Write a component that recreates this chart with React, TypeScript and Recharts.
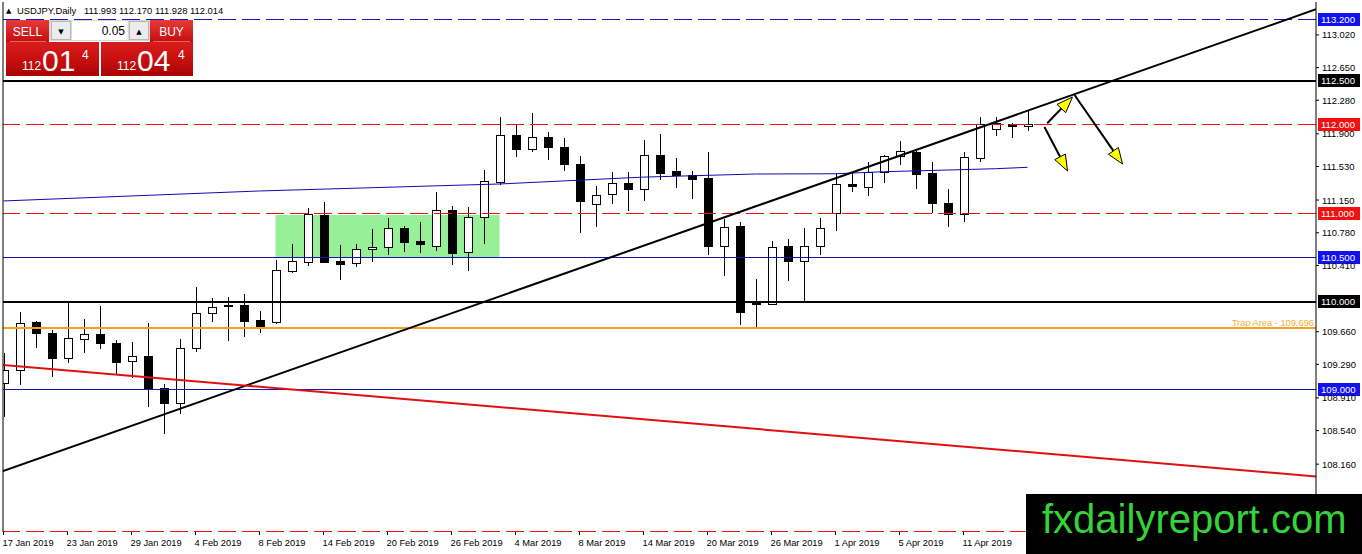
import React from 'react';
import { ComposedChart, Bar, Line, XAxis, YAxis, ReferenceLine, ReferenceArea } from 'recharts';

const dates = [
  '17 Jan 2019', '18 Jan 2019', '21 Jan 2019', '22 Jan 2019', '23 Jan 2019', '24 Jan 2019', '25 Jan 2019', '28 Jan 2019',
  '29 Jan 2019', '30 Jan 2019', '31 Jan 2019', '1 Feb 2019', '4 Feb 2019', '5 Feb 2019', '6 Feb 2019', '7 Feb 2019',
  '8 Feb 2019', '11 Feb 2019', '12 Feb 2019', '13 Feb 2019', '14 Feb 2019', '15 Feb 2019', '18 Feb 2019', '19 Feb 2019',
  '20 Feb 2019', '21 Feb 2019', '22 Feb 2019', '25 Feb 2019', '26 Feb 2019', '27 Feb 2019', '28 Feb 2019', '1 Mar 2019',
  '4 Mar 2019', '5 Mar 2019', '6 Mar 2019', '7 Mar 2019', '8 Mar 2019', '11 Mar 2019', '12 Mar 2019', '13 Mar 2019',
  '14 Mar 2019', '15 Mar 2019', '18 Mar 2019', '19 Mar 2019', '20 Mar 2019', '21 Mar 2019', '22 Mar 2019', '25 Mar 2019',
  '26 Mar 2019', '27 Mar 2019', '28 Mar 2019', '29 Mar 2019', '1 Apr 2019', '2 Apr 2019', '3 Apr 2019', '4 Apr 2019',
  '5 Apr 2019', '8 Apr 2019', '9 Apr 2019', '10 Apr 2019', '11 Apr 2019', '12 Apr 2019', '15 Apr 2019', '16 Apr 2019',
  '17 Apr 2019',
];

const opens = [
  109.079, 109.226, 109.770, 109.645, 109.362, 109.577, 109.634, 109.532, 109.328, 109.385,
  109.023, 108.853, 109.475, 109.872, 109.962, 109.962, 109.792, 109.770, 110.351, 110.452,
  110.981, 110.460, 110.434, 110.593, 110.615, 110.831, 110.687, 110.634, 111.038, 110.559,
  110.962, 111.358, 111.887, 111.725, 111.861, 111.748, 111.558, 111.102, 111.215, 111.340,
  111.272, 111.660, 111.479, 111.437, 111.397, 110.634, 110.857, 109.993, 109.970, 110.630,
  110.460, 110.634, 111.000, 111.332, 111.301, 111.471, 111.649, 111.698, 111.460, 111.114,
  110.992, 111.630, 111.951, 112.008, 111.993,
];
const highs = [
  109.419, 109.883, 109.780, 109.679, 109.996, 109.804, 109.951, 109.566, 109.543, 109.758,
  109.068, 109.577, 110.166, 110.041, 110.053, 110.087, 109.894, 110.472, 110.653, 111.060,
  111.125, 110.641, 110.649, 110.823, 110.951, 110.857, 110.905, 111.245, 111.083, 111.075,
  111.491, 112.087, 112.011, 112.132, 111.917, 111.849, 111.649, 111.309, 111.471, 111.471,
  111.830, 111.898, 111.623, 111.479, 111.698, 110.932, 110.898, 110.253, 110.687, 110.709,
  110.831, 110.951, 111.453, 111.457, 111.585, 111.660, 111.819, 111.700, 111.585, 111.275,
  111.691, 112.094, 112.087, 112.026, 112.170,
];
const lows = [
  108.694, 109.057, 109.475, 109.147, 109.306, 109.419, 109.464, 109.170, 109.136, 108.807,
  108.502, 108.728, 109.430, 109.770, 109.555, 109.600, 109.645, 109.747, 110.324, 110.407,
  110.434, 110.245, 110.396, 110.452, 110.528, 110.566, 110.554, 110.577, 110.415, 110.351,
  110.653, 111.321, 111.641, 111.698, 111.604, 111.483, 110.781, 110.849, 111.106, 111.030,
  111.143, 111.377, 111.290, 111.159, 110.528, 110.291, 109.736, 109.705, 109.962, 110.237,
  110.000, 110.528, 110.803, 111.245, 111.196, 111.340, 111.547, 111.275, 111.000, 110.842,
  110.905, 111.585, 111.875, 111.849, 111.928,
];
const closes = [
  109.226, 109.758, 109.645, 109.362, 109.589, 109.634, 109.532, 109.317, 109.385, 109.023,
  108.853, 109.475, 109.872, 109.940, 109.951, 109.781, 109.713, 110.358, 110.464, 110.989,
  110.452, 110.430, 110.593, 110.619, 110.831, 110.679, 110.656, 111.038, 110.554, 110.962,
  111.366, 111.887, 111.725, 111.861, 111.748, 111.555, 111.143, 111.211, 111.340, 111.279,
  111.660, 111.460, 111.434, 111.392, 110.634, 110.849, 109.886, 109.970, 110.622, 110.460,
  110.634, 110.834, 111.332, 111.309, 111.465, 111.649, 111.706, 111.445, 111.114, 110.992,
  111.634, 112.008, 112.019, 111.989, 112.014,
];

// moving average read at a few bars
const maIdx = [0, 16, 31, 40, 47, 52, 55, 59, 62, 64];
const maVals = [111.14, 111.253, 111.332, 111.41, 111.445, 111.448, 111.471, 111.49, 111.505, 111.521];

const dateTickIdx = [0, 4, 8, 12, 16, 20, 24, 28, 32, 36, 40, 44, 48, 52, 56, 60];
const priceTicks = [113.02, 112.65, 112.28, 111.9, 111.53, 111.15, 110.78, 110.41, 109.66, 109.29, 108.91, 108.54, 108.16, 107.79];

const levelPrices = [113.2, 112.5, 112.0, 111.0, 110.5, 110.0, 109.0, 107.4];
const levelLabelShown = [true, true, true, true, true, true, true, false];
const trapPrice = 109.696;
const trapText = 'Trap Area - 109.696';
const zoneX = [17, 31];
const zoneY = [110.506, 110.981];
const supportLine = [[-0.03, 108.083], [82.03, 113.31]];
const resistLine = [[-0.03, 109.283], [82.03, 108.021]];
const arrowSegs = [
  [[65.23, 112.019], [66.81, 112.317]],
  [[65.06, 111.977], [66.5, 111.479]],
  [[66.94, 112.34], [69.94, 111.558]],
];

const symbolTitle = 'USDJPY,Daily';
const quoteText = '111.993 112.170 111.928 112.014';
const lotSize = '0.05';
const sellParts = ['112', '01', '4'];
const buyParts = ['112', '04', '4'];
const watermark = 'fxdailyreport.com';

const X_DOMAIN = [-0.03, 82.03];
const Y_DOMAIN = [107.392, 113.3925];

const FONT = '"Liberation Sans", Arial, sans-serif';

const rows = dates.map((d, i) => {
  const k = maIdx.indexOf(i);
  return { i, date: d, o: opens[i], h: highs[i], l: lows[i], c: closes[i], ma: k >= 0 ? maVals[k] : null };
});

const levelStyle = [
  { stroke: '#1414c8', dash: '18 6', w: 1, bg: '#1212f0' },
  { stroke: '#000000', dash: undefined, w: 2, bg: '#000000' },
  { stroke: '#ee1010', dash: '18 6', w: 1, bg: '#f21010' },
  { stroke: '#ee1010', dash: '18 6', w: 1, bg: '#f21010' },
  { stroke: '#1414b4', dash: undefined, w: 1, bg: '#1212f0' },
  { stroke: '#000000', dash: undefined, w: 2, bg: '#000000' },
  { stroke: '#1414b4', dash: undefined, w: 1, bg: '#1212f0' },
  { stroke: '#ee1010', dash: '18 6', w: 1, bg: '#f21010' },
];

const Candle = (props: any) => {
  const { x, y, width, height, payload } = props;
  if (!payload || x == null) return null;
  const { o, h, l, c } = payload;
  const top = Math.min(y, y + height);
  const hh = Math.abs(height);
  const range = h - l;
  const k = range > 0 ? hh / range : 0;
  const py = (v: number) => top + (h - v) * k;
  const cx = Math.round(x + width / 2) + 0.5;
  const bull = c >= o;
  const yo = py(o);
  const yc = py(c);
  const bTop = Math.round(Math.min(yo, yc)) + 0.5;
  let bBot = Math.round(Math.max(yo, yc)) + 0.5;
  if (bBot - bTop < 1) bBot = bTop + 1;
  return (
    <g shapeRendering="crispEdges">
      <line x1={cx} x2={cx} y1={Math.round(top)} y2={Math.round(top + hh)} stroke="#000" strokeWidth={1} />
      <rect x={cx - 4} y={bTop} width={8} height={bBot - bTop} fill={bull ? '#ffffff' : '#000000'} stroke="#000" strokeWidth={1} />
    </g>
  );
};

const arrowShape = (props: any) => {
  const { x1, y1, x2, y2 } = props;
  const dx = x2 - x1;
  const dy = y2 - y1;
  const len = Math.hypot(dx, dy) || 1;
  const ux = dx / len;
  const uy = dy / len;
  const hl = 16;
  const hw = 6;
  const bx = x2 - ux * hl;
  const by = y2 - uy * hl;
  const px = -uy;
  const pyy = ux;
  return (
    <g>
      <line x1={x1} y1={y1} x2={bx} y2={by} stroke="#000" strokeWidth={2} />
      <polygon
        points={`${x2},${y2} ${bx + px * hw},${by + pyy * hw} ${bx - px * hw},${by - pyy * hw}`}
        fill="#ffff00"
        stroke="#000"
        strokeWidth={1}
      />
    </g>
  );
};

const boxLabel = (text: string, bg: string) => (props: any) => {
  const vb = props.viewBox || {};
  const x = (vb.x || 0) + (vb.width || 0);
  const y = vb.y || 0;
  return (
    <g>
      <rect x={x + 2} y={y - 6.5} width={42} height={13} fill={bg} shapeRendering="crispEdges" />
      <text x={x + 5} y={y + 3.5} fill="#ffffff" fontSize={9.6} fontFamily={FONT}>
        {text}
      </text>
    </g>
  );
};

const trapLabel = (props: any) => {
  const vb = props.viewBox || {};
  const x = (vb.x || 0) + (vb.width || 0);
  const y = vb.y || 0;
  return (
    <text x={x - 2} y={y - 2.5} fill="#f2b13a" fontSize={9.3} fontFamily={FONT} textAnchor="end">
      {trapText}
    </text>
  );
};

const PriceTick = (props: any) => {
  const { x, y, payload } = props;
  return (
    <text x={x} y={y + 3.5} fill="#000" fontSize={9.4} fontFamily={FONT} textAnchor="start">
      {Number(payload.value).toFixed(3)}
    </text>
  );
};

const DateTick = (props: any) => {
  const { x, y, payload } = props;
  return (
    <text x={x - 1} y={y + 11} fill="#000" fontSize={9.3} fontFamily={FONT} textAnchor="start">
      {dates[payload.value]}
    </text>
  );
};

const Overlay = () => (
  <svg width={1362} height={554} style={{ position: 'absolute', left: 0, top: 0, pointerEvents: 'none' }}>
    <defs>
      <linearGradient id="hdrRed" x1="0" y1="0" x2="0" y2="1">
        <stop offset="0" stopColor="#e83a3a" />
        <stop offset="1" stopColor="#c20e0e" />
      </linearGradient>
      <linearGradient id="boxRed" x1="0" y1="0" x2="0" y2="1">
        <stop offset="0" stopColor="#d81c1c" />
        <stop offset="0.5" stopColor="#c81010" />
        <stop offset="1" stopColor="#a80404" />
      </linearGradient>
    </defs>
    <text x={6} y={13} fontSize={7} fontFamily='"DejaVu Sans", sans-serif' fill="#000">▲</text>
    <text x={17} y={14} fontSize={9.4} fontFamily={FONT} fill="#000">{symbolTitle}</text>
    <text x={84} y={14} fontSize={9.4} fontFamily={FONT} fill="#000">{quoteText}</text>

    <rect x={6} y={20} width={43} height={22} fill="url(#hdrRed)" />
    <text x={27.5} y={36} fontSize={12} fontFamily={FONT} fill="#fff" textAnchor="middle">SELL</text>
    <line x1={10} x2={46} y1={41.5} y2={41.5} stroke="#ff9a9a" strokeOpacity={0.6} />
    <rect x={49} y={20} width={101} height={21} fill="#d8d8d8" />
    <rect x={51.5} y={21.5} width={19} height={18} fill="#ececec" stroke="#b8b8b8" />
    <text x={61} y={34} fontSize={7} fontFamily='"DejaVu Sans", sans-serif' fill="#000" textAnchor="middle">▼</text>
    <rect x={72} y={21} width={56} height={19} fill="#ffffff" />
    <text x={125} y={35} fontSize={12} fontFamily={FONT} fill="#000" textAnchor="end">{lotSize}</text>
    <rect x={129.5} y={21.5} width={19} height={18} fill="#ececec" stroke="#b8b8b8" />
    <text x={139} y={34} fontSize={7} fontFamily='"DejaVu Sans", sans-serif' fill="#000" textAnchor="middle">▲</text>
    <rect x={150} y={20} width={43} height={22} fill="url(#hdrRed)" />
    <text x={171.5} y={36} fontSize={12} fontFamily={FONT} fill="#fff" textAnchor="middle">BUY</text>
    <line x1={153} x2={190} y1={41.5} y2={41.5} stroke="#ff9a9a" strokeOpacity={0.6} />

    <rect x={6} y={42} width={93} height={34} fill="url(#boxRed)" />
    <rect x={101} y={42} width={92} height={34} fill="url(#boxRed)" />
    <text x={22} y={70} fontSize={12} fontFamily={FONT} fill="#fff">{sellParts[0]}</text>
    <text x={42} y={71} fontSize={30} fontFamily={FONT} fill="#fff">{sellParts[1]}</text>
    <text x={82} y={59} fontSize={12} fontFamily={FONT} fill="#fff">{sellParts[2]}</text>
    <text x={117} y={70} fontSize={12} fontFamily={FONT} fill="#fff">{buyParts[0]}</text>
    <text x={137} y={71} fontSize={30} fontFamily={FONT} fill="#fff">{buyParts[1]}</text>
    <text x={178} y={59} fontSize={12} fontFamily={FONT} fill="#fff">{buyParts[2]}</text>

    <rect x={1026} y={494} width={336} height={60} fill="#000" />
    <text x={1042} y={533} fontSize={40} fontFamily={FONT} fill="#36d23a">{watermark}</text>
  </svg>
);

export default function App() {
  return (
    <div style={{ position: 'absolute', left: 0, top: 0, width: 1362, height: 554, background: '#fff', overflow: 'hidden' }}>
      <ComposedChart width={1362} height={554} data={rows} margin={{ top: 2, right: 0, bottom: 0, left: 0 }}>
        <XAxis
          dataKey="i"
          type="number"
          domain={X_DOMAIN}
          allowDataOverflow
          ticks={dateTickIdx}
          interval={0}
          height={22}
          tickSize={3}
          tickMargin={0}
          axisLine={false}
          tickLine={{ stroke: '#000' }}
          tick={<DateTick />}
        />
        <YAxis yAxisId="frame" orientation="left" width={3} domain={[0, 1]} tick={false} tickLine={false} axisLine={{ stroke: '#000' }} />
        <YAxis
          yAxisId="p"
          orientation="right"
          width={46}
          domain={Y_DOMAIN}
          allowDataOverflow
          ticks={priceTicks}
          interval={0}
          tickSize={3}
          tickMargin={3}
          axisLine={{ stroke: '#000' }}
          tickLine={{ stroke: '#000' }}
          tick={<PriceTick />}
        />
        <ReferenceArea yAxisId="p" x1={zoneX[0]} x2={zoneX[1]} y1={zoneY[0]} y2={zoneY[1]} fill="#97f097" fillOpacity={1} stroke="none" />
        <Bar yAxisId="p" dataKey={(d: any) => [d.l, d.h]} barSize={9} shape={(p: any) => <Candle {...p} />} isAnimationActive={false} />
        <Line yAxisId="p" dataKey="ma" stroke="#0c0cb0" strokeWidth={1} dot={false} connectNulls isAnimationActive={false} />
        <ReferenceLine yAxisId="p" y={trapPrice} stroke="#f4a41c" strokeWidth={2} shapeRendering="crispEdges" label={trapLabel} />
        {levelPrices.map((p, k) => (
          <ReferenceLine
            key={k}
            yAxisId="p"
            y={p}
            stroke={levelStyle[k].stroke}
            strokeWidth={levelStyle[k].w}
            strokeDasharray={levelStyle[k].dash}
            shapeRendering="crispEdges"
            label={levelLabelShown[k] ? boxLabel(p.toFixed(3), levelStyle[k].bg) : undefined}
          />
        ))}
        <ReferenceLine
          yAxisId="p"
          segment={[{ x: supportLine[0][0], y: supportLine[0][1] }, { x: supportLine[1][0], y: supportLine[1][1] }]}
          stroke="#000"
          strokeWidth={2}
          ifOverflow="hidden"
        />
        <ReferenceLine
          yAxisId="p"
          segment={[{ x: resistLine[0][0], y: resistLine[0][1] }, { x: resistLine[1][0], y: resistLine[1][1] }]}
          stroke="#e01010"
          strokeWidth={2}
          ifOverflow="hidden"
        />
        {arrowSegs.map((s, k) => (
          <ReferenceLine
            key={'a' + k}
            yAxisId="p"
            segment={[{ x: s[0][0], y: s[0][1] }, { x: s[1][0], y: s[1][1] }]}
            ifOverflow="visible"
            shape={arrowShape}
          />
        ))}
      </ComposedChart>
      <Overlay />
    </div>
  );
}
